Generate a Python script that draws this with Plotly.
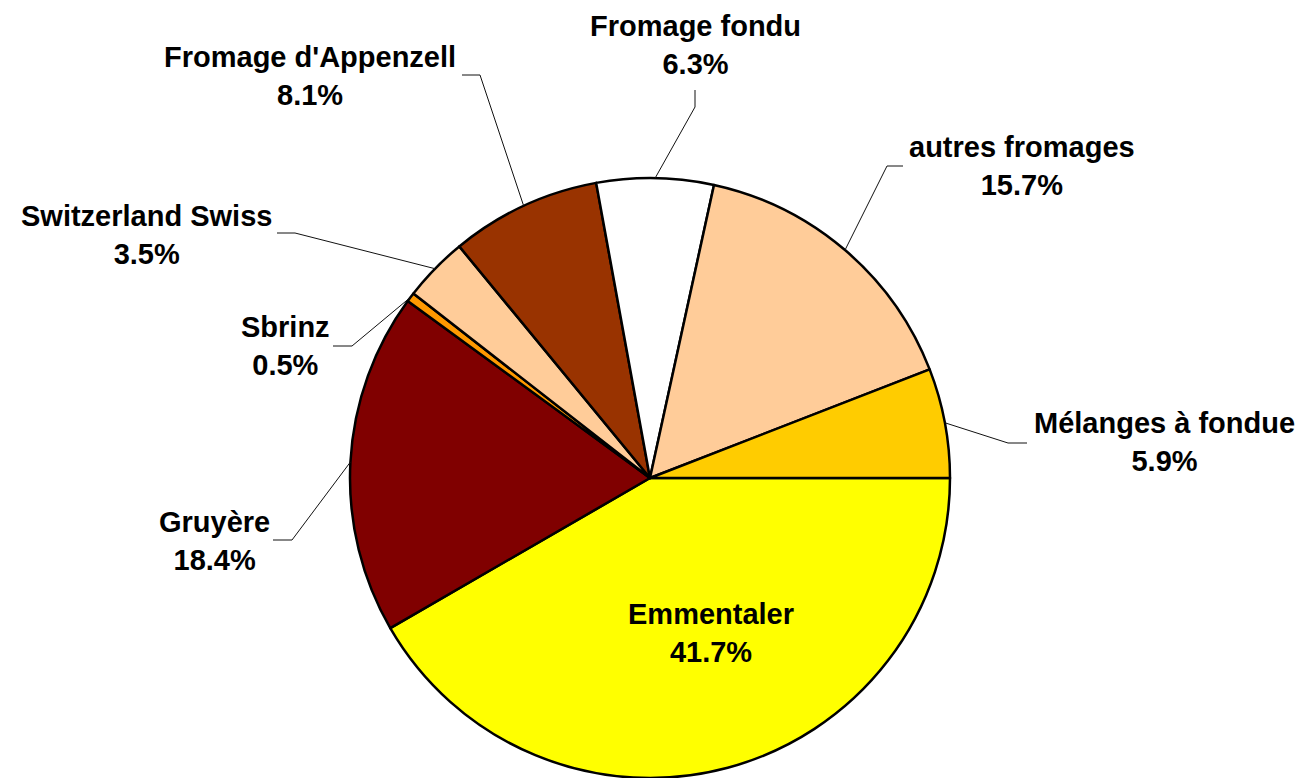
import math
import plotly.graph_objects as go

# ---- data ----
labels = ["Emmentaler", "Gruyère", "Sbrinz", "Switzerland Swiss",
          "Fromage d'Appenzell", "Fromage fondu", "autres fromages", "Mélanges à fondue"]
values = [41.7, 18.4, 0.5, 3.5, 8.1, 6.3, 15.7, 5.9]
colors = ["#FFFF00", "#800000", "#FF9900", "#FFCC99",
          "#993300", "#FFFFFF", "#FFCC99", "#FFCC00"]

# ---- layout / style ----
W, H = 1301, 778
CX, CY, R = 650, 478, 300          # pie centre and radius in pixels
FONT = dict(family="Liberation Sans, Arial, sans-serif", size=29, color="black", weight="bold")

# label block centre, leader elbow, leader end (pixels); None = inside label, no leader
label_layout = {
    "Emmentaler":          ((711, 633), None, None),
    "Gruyère":             ((214, 541), (292, 540), (273, 540)),
    "Sbrinz":              ((285, 346), (352, 346), (333, 346)),
    "Switzerland Swiss":   ((146, 235), (295, 233), (277, 233)),
    "Fromage d'Appenzell": ((310, 76), (480, 75), (462, 75)),
    "Fromage fondu":       ((695, 45), (695, 107), (695, 90)),
    "autres fromages":     ((1022, 166), (887, 166), (903, 166)),
    "Mélanges à fondue":   ((1164, 442), (1008, 443), (1027, 443)),
}


def px(x, y):
    return x / W, 1 - y / H


fig = go.Figure(go.Pie(
    labels=labels, values=values, sort=False, direction="clockwise", rotation=90,
    marker=dict(colors=colors, line=dict(color="black", width=2.5)),
    textinfo="none", hoverinfo="label+percent", showlegend=False,
    domain=dict(x=[(CX - R) / W, (CX + R) / W], y=[0, 2 * R / H]),
))

total = sum(values)
cum = 0.0
annotations, shapes = [], []
for lab, v in zip(labels, values):
    mid = (cum + v / 2) / total * 2 * math.pi   # clockwise from 3 o'clock (screen coords)
    cum += v
    (tx, ty), elbow, end = label_layout[lab]
    ax, ay = px(tx, ty)
    annotations.append(dict(
        x=ax, y=ay, xref="paper", yref="paper", xanchor="center", yanchor="middle",
        text=f"{lab}<br>{v:.1f}%", showarrow=False, font=FONT, align="center"))
    if elbow is not None:
        sx, sy = CX + R * math.cos(mid), CY + R * math.sin(mid)
        pts = [(sx, sy), elbow, end]
        for (x0, y0), (x1, y1) in zip(pts[:-1], pts[1:]):
            a0, b0 = px(x0, y0)
            a1, b1 = px(x1, y1)
            shapes.append(dict(type="line", xref="paper", yref="paper",
                               x0=a0, y0=b0, x1=a1, y1=b1,
                               line=dict(color="#111111", width=1)))

fig.update_layout(
    width=W, height=H, margin=dict(l=0, r=0, t=0, b=0),
    paper_bgcolor="white", plot_bgcolor="white",
    annotations=annotations, shapes=shapes,
)

fig.write_html("out.html", config={"displayModeBar": False},
               post_script="document.body.style.margin='0';document.body.style.overflow='hidden';")
